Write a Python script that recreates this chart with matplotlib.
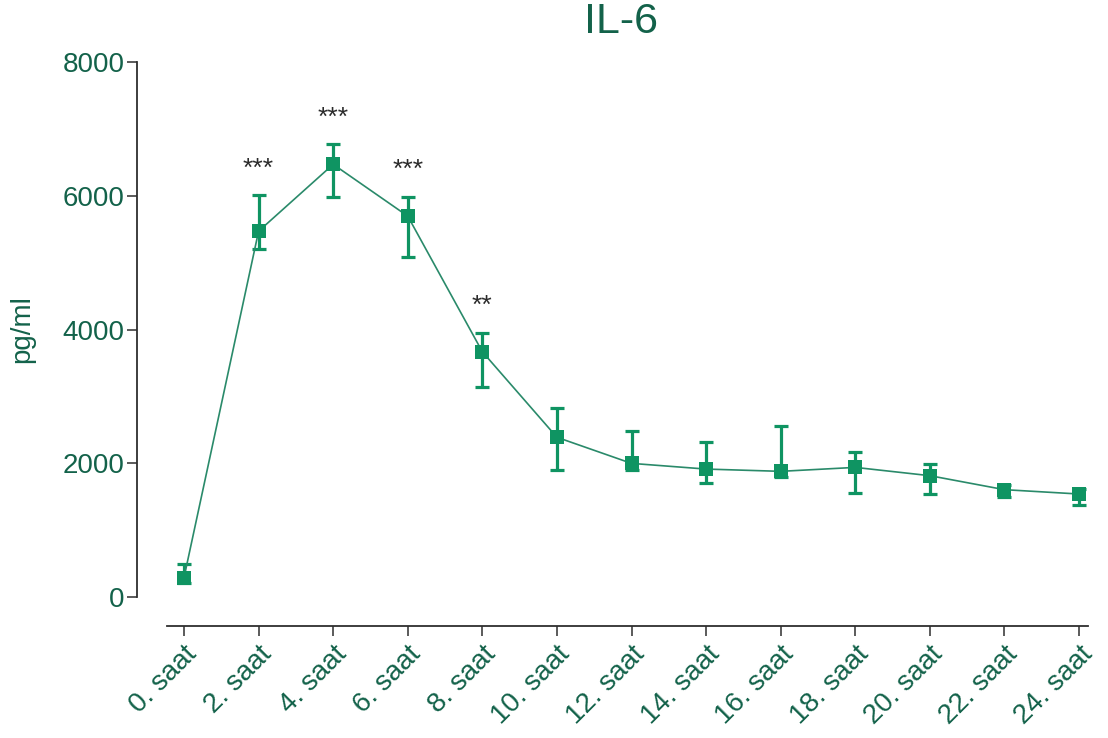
import matplotlib
matplotlib.use("Agg")
import matplotlib.pyplot as plt
import numpy as np

# IL-6 concentration over 24 hours
categories = ["0. saat", "2. saat", "4. saat", "6. saat", "8. saat", "10. saat",
              "12. saat", "14. saat", "16. saat", "18. saat", "20. saat",
              "22. saat", "24. saat"]
il6_mean = [290, 5470, 6470, 5695, 3667, 2388, 1998, 1913, 1879, 1938, 1814, 1605, 1540]
il6_upper = [500, 6010, 6770, 5985, 3955, 2820, 2480, 2312, 2560, 2163, 1988, 1680, 1610]
il6_lower = [210, 5210, 5985, 5090, 3135, 1894, 1900, 1709, 1800, 1550, 1535, 1490, 1370]
significance = ["", "***", "***", "***", "**", "", "", "", "", "", "", "", ""]
y_ticks = [0, 2000, 4000, 6000, 8000]

text_green = "#13624a"
mark_green = "#0f9462"
line_green = "#2a8a6a"
axis_gray = "#2e2e2e"

plt.rcParams["font.family"] = ["Liberation Sans", "DejaVu Sans"]

fig = plt.figure(figsize=(11.08, 7.38), dpi=100)
ax = fig.add_axes([167 / 1108, 1 - 597 / 738, (1088 - 167) / 1108, (597 - 62) / 738])

x = np.arange(len(categories))
mean = np.array(il6_mean, dtype=float)
err = np.vstack([mean - np.array(il6_lower), np.array(il6_upper) - mean])

ax.errorbar(x, mean, yerr=err, fmt="none", ecolor=mark_green, elinewidth=2.3,
            capsize=5.2, capthick=2.3, zorder=2)
ax.plot(x, mean, color=line_green, lw=1.2, zorder=3)
ax.plot(x, mean, ls="none", marker="s", ms=10.5, color=mark_green,
        markeredgewidth=0, zorder=4)

for xi, top, lab in zip(x, il6_upper, significance):
    if lab:
        ax.text(xi, top + 290, lab, ha="center", va="baseline",
                fontsize=19, color="#2b2b2b")

ax.set_xlim(-0.228, 12.12)
ax.set_ylim(0, 8000)
ax.set_yticks(y_ticks)
ax.set_xticks(x)
ax.set_xticklabels(categories)

for side in ("top", "right"):
    ax.spines[side].set_visible(False)
ax.spines["left"].set_position(("outward", 21.6))
ax.spines["bottom"].set_position(("outward", 21))
ax.spines["left"].set_bounds(0, 8000)
for side in ("left", "bottom"):
    ax.spines[side].set_color(axis_gray)
    ax.spines[side].set_linewidth(1.3)

ax.tick_params(axis="both", direction="out", length=7, width=1.1,
               color=axis_gray, labelcolor=text_green, labelsize=20)
ax.tick_params(axis="y", pad=2)
ax.tick_params(axis="x", pad=4)
for lbl in ax.get_xticklabels():
    lbl.set_rotation(45)
    lbl.set_rotation_mode("anchor")
    lbl.set_horizontalalignment("right")
    lbl.set_verticalalignment("top")

ax.set_ylabel("pg/ml", fontsize=20, color=text_green, labelpad=20)
fig.text(621 / 1108, 1 - 22 / 738, "IL-6", ha="center", va="center",
         fontsize=31, color=text_green)

fig.savefig("out.png", dpi=100)
